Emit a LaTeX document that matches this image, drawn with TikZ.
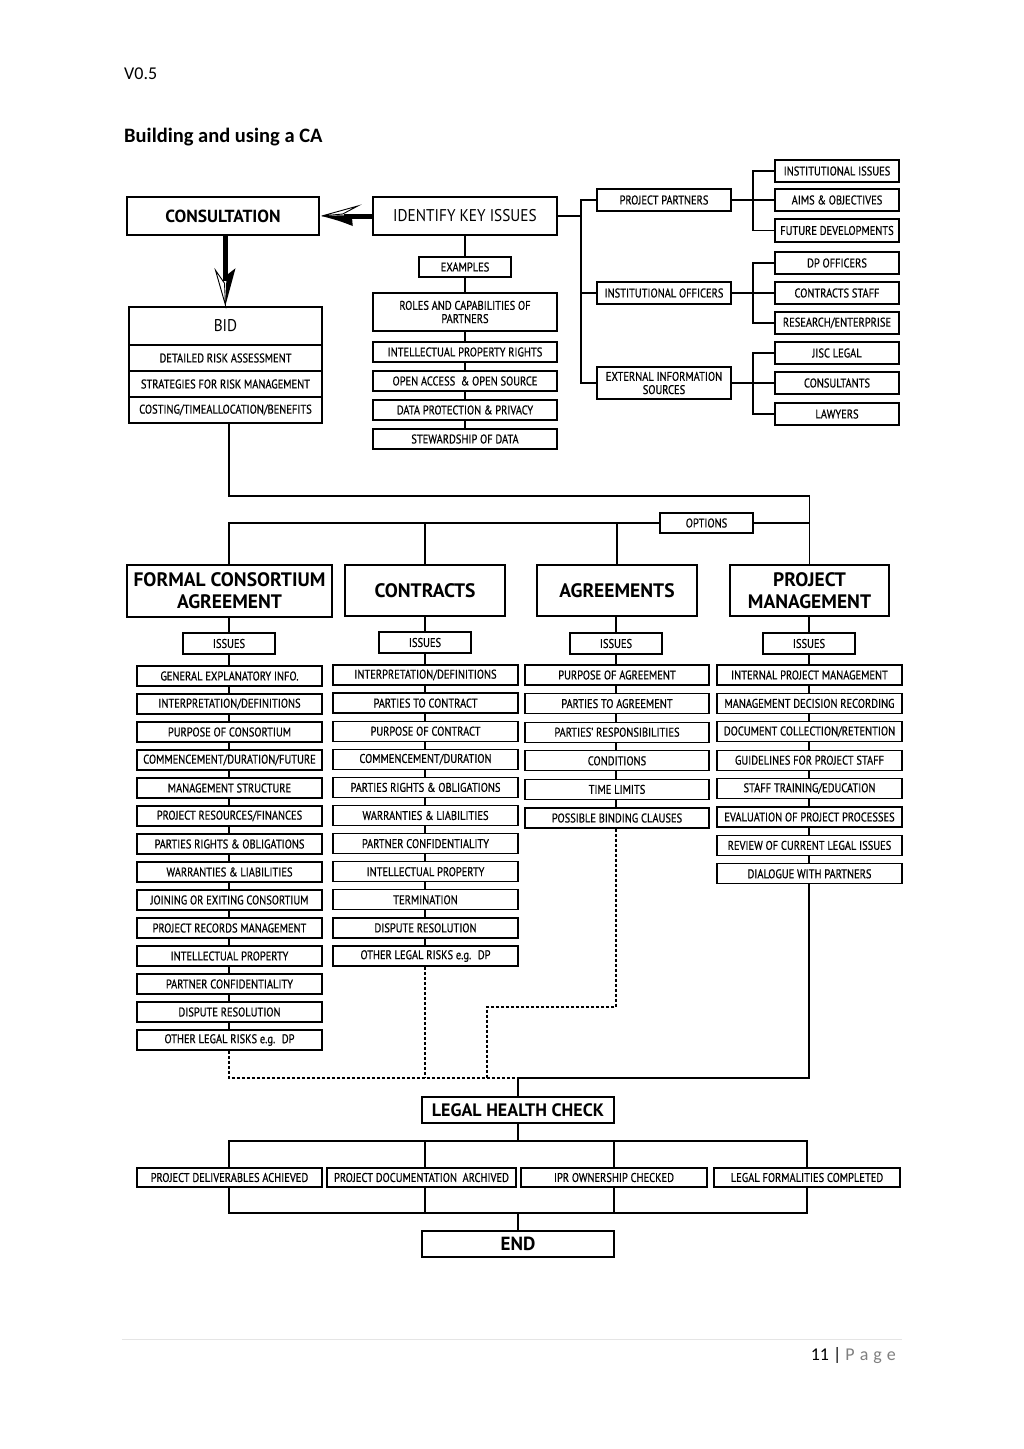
\documentclass[tikz,border=0pt]{standalone}
\usepackage{fontspec}
\setmainfont{Carlito}
\newfontfamily\cond[FakeStretch=0.83,FakeBold=0.6]{PT Sans}
\newfontfamily\condm[FakeStretch=0.9]{PT Sans}
\newfontfamily\hdf{PT Sans}
\usetikzlibrary{calc}
\definecolor{pg}{gray}{0.5}
\tikzset{
 box/.style={draw, line width=1.3pt, inner sep=0pt, align=center, font=\cond\fontsize{12.6}{13.2}\selectfont},
 big/.style={line width=1.5pt, font=\condm\fontsize{17}{19}\selectfont},
 head/.style={line width=1.5pt, font=\hdf\bfseries\fontsize{19.5}{22}\selectfont},
 conn/.style={line width=1.3pt},
 dconn/.style={line width=1.3pt, dash pattern=on 3pt off 2pt},
}
\newcommand\bx[7][]{\node[box,minimum width={((#4)-(#2))*1pt},minimum height={((#5)-(#3))*1pt},#1] (#6) at ({((#2)+(#4))/2},{((#3)+(#5))/2}) {#7};}
\begin{document}
\begin{tikzpicture}[x=1pt,y=-1pt]
\useasboundingbox[fill=white] (0,0) rectangle (1024,1449);
% header / footer
\node[anchor=base west, inner sep=0pt, font=\fontsize{18}{20}\selectfont] (ver) at (124,79) {V0.5};
\node[anchor=base west, inner sep=0pt, font=\bfseries\fontsize{20.5}{22}\selectfont] (ttl) at (124,142) {Building and using a CA};
\draw[gray!20, line width=0.8pt] (122,1339) -- (902,1339);
\node[anchor=base east, inner sep=0pt, font=\fontsize{18}{20}\selectfont] (pgno) at (896,1360) {11 | \textcolor{pg}{P\hspace{5pt}a\hspace{5pt}g\hspace{5pt}e}};

% top left
\bx[head,font=\hdf\bfseries\fontsize{17.5}{20}\selectfont]{127}{197}{319}{235}{cons}{CONSULTATION}
\bx[big]{373}{197}{557}{235}{iki}{IDENTIFY KEY ISSUES}
\bx{419}{257}{511}{277}{ex}{EXAMPLES}
\bx{373}{293}{557}{331}{ex1}{ROLES AND CAPABILITIES OF\\PARTNERS}
\bx{373}{342}{557}{362}{ex2}{INTELLECTUAL PROPERTY RIGHTS}
\bx{373}{371}{557}{391}{ex3}{OPEN ACCESS \ \& OPEN SOURCE}
\bx{373}{400}{557}{420}{ex4}{DATA PROTECTION \& PRIVACY}
\bx{373}{429}{557}{449}{ex5}{STEWARDSHIP OF DATA}
\draw[conn] (iki.south) -- (ex.north);
\draw[conn] (ex.south) -- (ex1.north);
\draw[conn] (ex1.south) -- (ex2.north);
\draw[conn] (ex2.south) -- (ex3.north);
\draw[conn] (ex3.south) -- (ex4.north);
\draw[conn] (ex4.south) -- (ex5.north);

\bx[big]{129}{307}{322}{345}{bid}{BID}
\bx{129}{345}{322}{371}{bid1}{DETAILED RISK ASSESSMENT}
\bx{129}{371}{322}{397}{bid2}{STRATEGIES FOR RISK MANAGEMENT}
\bx{129}{397}{322}{423}{bid3}{COSTING/TIMEALLOCATION/BENEFITS}

% arrows
\coordinate (lt) at ($(cons.east)+(2,0)$);
\draw[line width=5pt] (iki.west) -- ($(lt)+(22,0)$);
\filldraw[fill=white, line width=0.9pt, line join=miter] (lt) -- ($(lt)+(36,-10)$) -- ($(lt)+(21,-2)$) -- cycle;
\fill (lt) -- ($(lt)+(30,-1)$) -- ($(lt)+(31,10)$) .. controls ($(lt)+(18,5)$) .. (lt) -- cycle;
\coordinate (dt) at ($(bid.north)+(0,-1)$);
\draw[line width=5pt] (bid.north |- cons.south) -- ($(dt)+(0,-24)$);
\filldraw[fill=white, line width=0.9pt, line join=miter] (dt) -- ($(dt)+(-10,-35)$) -- ($(dt)+(-1,-22)$) -- cycle;
\fill (dt) -- ($(dt)+(1,-30)$) -- ($(dt)+(10,-37)$) .. controls ($(dt)+(5,-18)$) .. (dt) -- cycle;

% right side
\bx{597}{189}{731}{211}{pp}{PROJECT PARTNERS}
\bx{597}{282}{731}{304}{io}{INSTITUTIONAL OFFICERS}
\bx{597}{367}{731}{399}{eis}{EXTERNAL INFORMATION\\SOURCES}
\bx{775}{160}{899}{182}{pp1}{INSTITUTIONAL ISSUES}
\bx{775}{189}{899}{211}{pp2}{AIMS \& OBJECTIVES}
\bx{775}{219}{899}{242}{pp3}{FUTURE DEVELOPMENTS}
\bx{775}{252}{899}{274}{io1}{DP OFFICERS}
\bx{775}{282}{899}{304}{io2}{CONTRACTS STAFF}
\bx{775}{312}{899}{334}{io3}{RESEARCH/ENTERPRISE}
\bx{775}{342}{899}{364}{eis1}{JISC LEGAL}
\bx{775}{372}{899}{394}{eis2}{CONSULTANTS}
\bx{775}{403}{899}{425}{eis3}{LAWYERS}
\coordinate (tr) at (581,0);
\coordinate (st) at (753,0);
\draw[conn] (iki.east) -- (iki.east -| tr);
\draw[conn] (pp.west) -- (pp.west -| tr) -- (eis.west -| tr) -- (eis.west);
\draw[conn] (io.west) -- (io.west -| tr);
\draw[conn] (pp.east) -- (pp2.west);
\draw[conn] (pp1.west) -- (pp1.west -| st) -- (pp3.west -| st) -- (pp3.west);
\draw[conn] (io.east) -- (io2.west);
\draw[conn] (io1.west) -- (io1.west -| st) -- (io3.west -| st) -- (io3.west);
\draw[conn] (eis.east) -- (eis2.west);
\draw[conn] (eis1.west) -- (eis1.west -| st) -- (eis3.west -| st) -- (eis3.west);

% options
\coordinate (tb) at (0,496);
\bx{660}{513}{753}{533}{opt}{OPTIONS}
\bx[head]{127}{565}{332}{617}{fca}{FORMAL CONSORTIUM\\AGREEMENT}
\bx[head]{345}{565}{505}{616}{con}{CONTRACTS}
\bx[head]{537}{565}{697}{616}{agr}{AGREEMENTS}
\bx[head]{730}{565}{889}{616}{pm}{PROJECT\\MANAGEMENT}
\bx{183}{633}{275}{654}{fcai}{ISSUES}
\bx{379}{632}{471}{653}{coni}{ISSUES}
\bx{570}{633}{662}{654}{agri}{ISSUES}
\bx{763}{633}{855}{654}{pmi}{ISSUES}
\draw[conn] (fcai.north |- bid3.south) |- (pm.north |- tb) -- (pm.north);
\draw[conn] (fcai.north |- fca.north) |- (opt.west);
\draw[conn] (opt.east) -| (pm.north);
\draw[conn] (con.north) -- (con.north |- opt.west);
\draw[conn] (agr.north) -- (agr.north |- opt.west);
\draw[conn] (fcai.north |- fca.south) -- (fcai.north);
\draw[conn] (coni.north |- con.south) -- (coni.north);
\draw[conn] (agri.north |- agr.south) -- (agri.north);
\draw[conn] (pmi.north |- pm.south) -- (pmi.north);

% lists
\foreach \t [count=\i from 0] in {GENERAL EXPLANATORY INFO., INTERPRETATION/DEFINITIONS, PURPOSE OF CONSORTIUM, COMMENCEMENT/DURATION/FUTURE, MANAGEMENT STRUCTURE, PROJECT RESOURCES/FINANCES, PARTIES RIGHTS \& OBLIGATIONS, WARRANTIES \& LIABILITIES, JOINING OR EXITING CONSORTIUM, PROJECT RECORDS MANAGEMENT, INTELLECTUAL PROPERTY, PARTNER CONFIDENTIALITY, DISPUTE RESOLUTION, OTHER LEGAL RISKS e.g. \ DP}
 {\bx{137}{666+28*\i}{322}{686+28*\i}{fca\i}{\t}}
\foreach \t [count=\i from 0] in {INTERPRETATION/DEFINITIONS, PARTIES TO CONTRACT, PURPOSE OF CONTRACT, COMMENCEMENT/DURATION, PARTIES RIGHTS \& OBLIGATIONS, WARRANTIES \& LIABILITIES, PARTNER CONFIDENTIALITY, INTELLECTUAL PROPERTY, TERMINATION, DISPUTE RESOLUTION, OTHER LEGAL RISKS e.g. \ DP}
 {\bx{333}{665+28.1*\i}{518}{685+28.1*\i}{con\i}{\t}}
\foreach \t [count=\i from 0] in {PURPOSE OF AGREEMENT, PARTIES TO AGREEMENT, PARTIES’ RESPONSIBILITIES, CONDITIONS, TIME LIMITS, POSSIBLE BINDING CLAUSES}
 {\bx{525}{665+28.6*\i}{709}{685+28.6*\i}{agr\i}{\t}}
\foreach \t [count=\i from 0] in {INTERNAL PROJECT MANAGEMENT, MANAGEMENT DECISION RECORDING, DOCUMENT COLLECTION/RETENTION, GUIDELINES FOR PROJECT STAFF, STAFF TRAINING/EDUCATION, EVALUATION OF PROJECT PROCESSES, REVIEW OF CURRENT LEGAL ISSUES, DIALOGUE WITH PARTNERS}
 {\bx{717}{665+28.4*\i}{902}{685+28.4*\i}{pm\i}{\t}}
\draw[conn] (fcai.south) -- (fcai.south |- fca0.north);
\foreach \i [evaluate=\i as \j using int(\i+1)] in {0,...,12}
 {\draw[conn] (fcai.south |- fca\i.south) -- (fcai.south |- fca\j.north);}
\draw[conn] (coni.south) -- (coni.south |- con0.north);
\foreach \i [evaluate=\i as \j using int(\i+1)] in {0,...,9}
 {\draw[conn] (coni.south |- con\i.south) -- (coni.south |- con\j.north);}
\draw[conn] (agri.south) -- (agri.south |- agr0.north);
\foreach \i [evaluate=\i as \j using int(\i+1)] in {0,...,4}
 {\draw[conn] (agri.south |- agr\i.south) -- (agri.south |- agr\j.north);}
\draw[conn] (pmi.south) -- (pmi.south |- pm0.north);
\foreach \i [evaluate=\i as \j using int(\i+1)] in {0,...,6}
 {\draw[conn] (pmi.south |- pm\i.south) -- (pmi.south |- pm\j.north);}

% bottom
\bx[head,font=\hdf\bfseries\fontsize{18}{20}\selectfont]{422}{1097}{614}{1123}{lhc}{LEGAL HEALTH CHECK}
\coordinate (jb) at (518,1078);
\coordinate (ab) at (487,1007);
\draw[dconn] (fcai.south |- fca13.south) |- (jb);
\draw[dconn] (coni.south |- con10.south) -- (coni.south |- jb);
\draw[dconn] (agri.south |- agr5.south) |- (ab) -- (ab |- jb);
\draw[conn] (pmi.south |- pm7.south) |- (jb);
\draw[conn] (jb) -- (lhc.north);

\bx{137}{1168}{322}{1187}{r1}{PROJECT DELIVERABLES ACHIEVED}
\bx{327}{1168}{516}{1187}{r2}{PROJECT DOCUMENTATION \ ARCHIVED}
\bx{521}{1168}{707}{1187}{r3}{IPR OWNERSHIP CHECKED}
\bx{714}{1168}{900}{1187}{r4}{LEGAL FORMALITIES COMPLETED}
\bx[head,font=\hdf\bfseries\fontsize{19}{21}\selectfont]{422}{1231}{614}{1257}{fin}{END}
\coordinate (b1) at (0,1141);
\coordinate (b2) at (0,1213);
\draw[conn] (lhc.south) -- (lhc.south |- b1);
\draw[conn] (fcai.south |- r1.north) |- (r4.north |- b1) -- (r4.north);
\draw[conn] (coni.south |- b1) -- (coni.south |- r2.north);
\draw[conn] (r3.north) -- (r3.north |- b1);
\draw[conn] (fcai.south |- r1.south) |- (r4.south |- b2) -- (r4.south);
\draw[conn] (coni.south |- r2.south) -- (coni.south |- b2);
\draw[conn] (r3.south) -- (r3.south |- b2);
\draw[conn] (fin.north |- b2) -- (fin.north);
\end{tikzpicture}
\end{document}
